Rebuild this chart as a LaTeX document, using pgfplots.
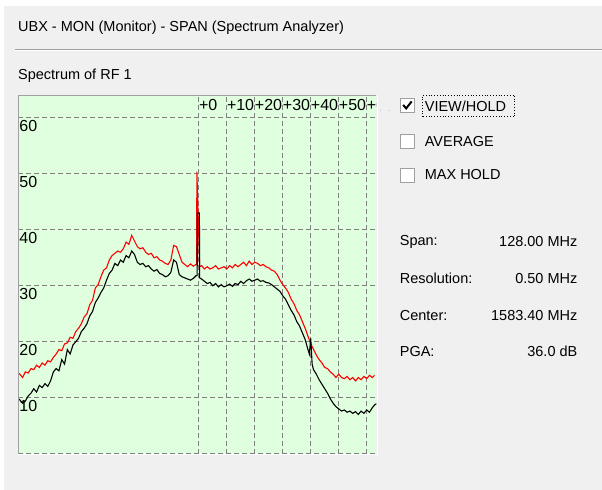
\documentclass[border=0pt]{standalone}
\usepackage{fontspec}
\setmainfont{Liberation Sans}
\usepackage{pgfplots}
\pgfplotsset{compat=1.18}
\definecolor{winbg}{RGB}{240,240,240}
\definecolor{plotbg}{RGB}{223,255,223}
\definecolor{gridc}{RGB}{128,128,128}
\definecolor{framec}{RGB}{160,160,160}
\pgfplotstableread{
x y
-64.5 9.8
-64 9.6
-63 9.0
-62 9.4
-61 10.3
-60 10.8
-59 11.6
-58 11.0
-57 12.2
-56 11.8
-55 12.5
-54 12.0
-53 13.0
-52 14.6
-51 15.2
-50 14.8
-49 16.8
-48 16.0
-47 18.6
-46 17.8
-45 19.4
-44 20.0
-43 20.6
-42 21.8
-41 22.4
-40 23.2
-39 24.6
-38 25.4
-37 27.0
-36 27.8
-35 28.8
-34 29.6
-33 31.0
-32 32.2
-31 32.8
-30 34.0
-29 33.6
-28 34.6
-27 34.2
-26 35.4
-25 35.0
-24 36.2
-23 35.6
-22 34.2
-21 33.8
-20 34.0
-19 33.4
-18 33.6
-17 33.0
-16 32.6
-15 32.9
-14 32.2
-13 32.0
-12 31.6
-11 31.8
-10 32.4
-9 34.6
-8 34.2
-7 32.0
-6 31.6
-5 31.4
-4 31.2
-3 31.0
-2 31.3
-1 31.8
-0.6 31.8
-0.5 43.0
0.2 43.0
0.3 31.4
1 31.2
2 30.8
3 30.4
4 30.6
5 30.0
6 30.4
7 29.8
8 30.2
9 29.8
10 30.0
11 30.3
12 29.9
13 30.4
14 30.2
15 30.8
16 30.4
17 30.9
18 31.2
19 30.8
20 31.0
21 31.2
22 30.8
23 30.9
24 30.6
25 30.5
26 30.2
27 29.8
28 29.4
29 29.0
30 28.2
31 27.6
32 26.6
33 25.6
34 24.8
35 23.6
36 22.8
37 21.6
38 20.4
39 18.6
39.5 17.8
40 20.6
40.5 16.0
41 15.0
42 14.2
43 13.2
44 12.4
45 11.6
46 10.8
47 9.8
48 9.0
49 8.4
50 8.0
51 7.6
52 7.8
53 7.4
54 7.6
55 7.2
56 7.5
57 7.0
58 7.6
59 7.2
60 7.8
61 7.4
62 8.2
63 8.8
63.5 8.9
}\blacktab
\pgfplotstableread{
x y
-64.5 14.4
-64 14.2
-63 13.6
-62 14.6
-61 14.4
-60 15.2
-59 15.0
-58 15.8
-57 15.4
-56 16.2
-55 15.8
-54 16.6
-53 16.4
-52 17.2
-51 17.8
-50 18.6
-49 18.4
-48 19.6
-47 19.8
-46 20.8
-45 20.6
-44 21.8
-43 22.4
-42 23.2
-41 24.4
-40 25.0
-39 26.6
-38 27.4
-37 29.6
-36 30.2
-35 31.6
-34 32.8
-33 33.2
-32 34.6
-31 35.4
-30 35.8
-29 36.2
-28 36.0
-27 36.6
-26 37.8
-25 37.4
-24 39.0
-23 38.0
-22 37.0
-21 36.6
-20 36.8
-19 36.0
-18 35.6
-17 35.8
-16 35.0
-15 35.2
-14 34.6
-13 34.4
-12 34.0
-11 33.8
-10 34.6
-9 37.2
-8 37.0
-7 35.6
-6 34.2
-5 33.8
-4 33.4
-3 33.9
-2 33.5
-1 33.8
-0.8 33.8
-0.7 50.4
0.3 33.4
1 33.6
2 33.0
3 33.4
4 33.0
5 33.2
6 33.6
7 33.0
8 33.2
9 33.4
10 33.0
11 33.6
12 33.2
13 33.8
14 33.4
15 33.8
16 34.2
17 33.6
18 34.4
19 33.8
20 34.2
21 34.0
22 33.6
23 33.8
24 33.4
25 33.2
26 32.8
27 32.6
28 32.0
29 31.0
30 30.2
31 29.6
32 28.8
33 27.6
34 26.8
35 25.6
36 24.8
37 23.6
38 22.4
39 21.0
40 19.6
41 18.6
42 17.6
43 16.8
44 16.2
45 15.4
46 15.2
47 14.6
48 14.2
49 13.6
50 14.2
51 13.6
52 13.4
53 13.8
54 13.2
55 13.6
56 13.0
57 13.6
58 13.2
59 13.8
60 13.4
61 14.0
62 13.6
62.8 14.0
}\redtab
\begin{document}
\begin{tikzpicture}[x=1pt,y=1pt]
\fill[white] (0,0) rectangle (602,490);
\fill[winbg] (4.5,0) rectangle (602,484);
\node[anchor=west, inner sep=0, font=\fontsize{14.5}{17}\selectfont] at (18,462) {UBX - MON (Monitor) - SPAN (Spectrum Analyzer)};
\draw[framec, line width=1pt] (15,440.5) -- (602,440.5);
\draw[white, line width=1pt] (15,439.5) -- (602,439.5);
\node[anchor=west, inner sep=0, font=\fontsize{14.5}{17}\selectfont] at (18,414) {Spectrum of RF 1};
\begin{axis}[
  at={(18.4pt,36pt)}, anchor=south west,
  scale only axis, width=358.4pt, height=358.4pt,
  xmin=-64.5, xmax=63.5, ymin=0, ymax=64,
  axis background/.style={fill=plotbg},
  axis line style={draw=none},
  major tick length=0pt,
  xtick={0,10,20,30,40,50,60},
  xticklabels={+0,+10,+20,+30,+40,+50,+60},
  xticklabel pos=right,
  xticklabel style={anchor=west, inner sep=0pt, yshift=-9.5pt, xshift=0pt, font=\fontsize{16}{18}\selectfont},
  ytick={0,10,20,30,40,50,60},
  yticklabels={{},10,20,30,40,50,60},
  yticklabel style={anchor=west, inner sep=0pt, xshift=0.8pt, yshift=-8pt, font=\fontsize{16}{18}\selectfont},
  grid=major,
  major grid style={gridc, line width=1.2pt, dash pattern=on 5pt off 3pt},
]
\addplot[red, line width=1.1pt, mark=none] table[x=x,y=y] {\redtab};
\addplot[black, line width=1.1pt, mark=none] table[x=x,y=y] {\blacktab};
\end{axis}
% sunken frame
\fill[winbg] (377.2,380) rectangle (400,395);
\draw[framec, line width=1pt] (18.4,36) -- (18.4,394.6) -- (376.8,394.6);
\draw[white, line width=1pt] (377.5,395) -- (377.5,35.3) -- (18,35.3);
% check boxes
\tikzset{cb/.style={fill=white, draw=framec, line width=1pt}}
\draw[cb] (400.5,377.5) rectangle (414.5,391.5);
\draw[line width=2pt, black] (403.5,385) -- (406.5,381.5) -- (412,388.5);
\draw[black, dotted, line width=0.8pt] (423,373) rectangle (515,395);
\node[anchor=west, inner sep=0, font=\fontsize{14.5}{17}\selectfont] at (425,384) {VIEW/HOLD};
\draw[cb] (400.5,341.5) rectangle (414.5,355.5);
\node[anchor=west, inner sep=0, font=\fontsize{14.5}{17}\selectfont] at (425,348) {AVERAGE};
\draw[cb] (400.5,307.5) rectangle (414.5,321.5);
\node[anchor=west, inner sep=0, font=\fontsize{14.5}{17}\selectfont] at (425,315) {MAX HOLD};
% info
\begin{scope}[every node/.style={inner sep=0, font=\fontsize{14.5}{17}\selectfont}]
\node[anchor=west] at (400,248) {Span:};
\node[anchor=east] at (578,248) {128.00 MHz};
\node[anchor=west] at (400,211) {Resolution:};
\node[anchor=east] at (578,211) {0.50 MHz};
\node[anchor=west] at (400,174) {Center:};
\node[anchor=east] at (578,174) {1583.40 MHz};
\node[anchor=west] at (400,138) {PGA:};
\node[anchor=east] at (578,138) {36.0 dB};
\end{scope}
\end{tikzpicture}
\end{document}
